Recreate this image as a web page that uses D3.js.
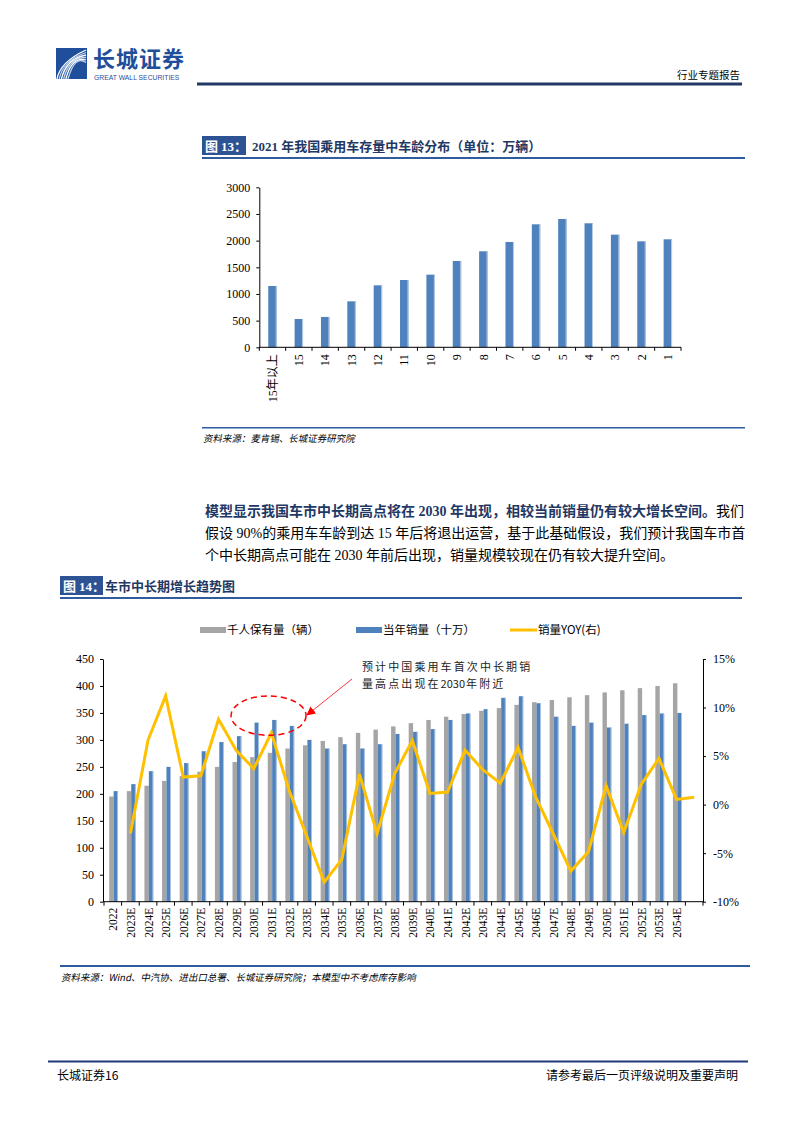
<!DOCTYPE html>
<html><head><meta charset="utf-8">
<script src="https://cdn.jsdelivr.net/npm/d3@7"></script>
<style>body{margin:0;background:#fff} svg{display:block}</style>
</head><body><svg id="page" width="794" height="1123"></svg>
<script>
// ---------- Chart 13 data ----------
const ageCategories = ["15年以上","15","14","13","12","11","10","9","8","7","6","5","4","3","2","1"];
const ageValues = [1150,531,569,862,1162,1262,1362,1619,1800,1975,2306,2406,2325,2112,1987,2025];
const ageTicks = [0,500,1000,1500,2000,2500,3000];

// ---------- Chart 14 data ----------
const years = ["2022","2023E","2024E","2025E","2026E","2027E","2028E","2029E","2030E","2031E","2032E","2033E","2034E","2035E","2036E","2037E","2038E","2039E","2040E","2041E","2042E","2043E","2044E","2045E","2046E","2047E","2048E","2049E","2050E","2051E","2052E","2053E","2054E","2055E"];
const yearLabels = ["2022","2023E","2024E","2025E","2026E","2027E","2028E","2029E","2030E","2031E","2032E","2033E","2034E","2035E","2036E","2037E","2038E","2039E","2040E","2041E","2042E","2043E","2044E","2045E","2046E","2047E","2048E","2049E","2050E","2051E","2052E","2053E","2054E",""];
const ownershipPer1000 = [195,205,215,224,233,241,250,259,268,276,284,290,298,305,313,319,325,331,337,343,348,354,359,365,370,374,379,383,388,392,396,400,405];
const annualSales = [205,218,242,250,257,279,296,307,332,337,326,300,284,292,284,292,311,315,320,337,349,357,378,381,368,343,326,332,323,330,346,349,350];
const salesYoY = [null,-2.97,6.65,11.2,2.84,2.97,8.8,5.6,3.7,7.4,1.5,-3.2,-8.0,-5.65,3.14,-3.0,3.2,6.6,1.15,1.3,5.6,3.6,2.2,5.9,0.8,-3.0,-6.85,-4.85,1.95,-2.87,2.1,4.76,0.54,0.75];
const leftTicks = [0,50,100,150,200,250,300,350,400,450];
const rightTicks = [-10,-5,0,5,10,15];
const seriesNames = ["千人保有量（辆）","当年销量（十万）","销量YOY(右)"];

const SERIF = "'Liberation Serif','Times New Roman','Noto Sans CJK SC',serif";
const CJK = "'Noto Sans CJK SC','Liberation Serif',sans-serif";
const BLUE = "#4F81BD", GRAY = "#A5A5A5", YELLOW = "#FFC000";
const NAVY = "#1F3864", BOXBLUE = "#2E5395", RULE = "#2F5B9F";

const svg = d3.select("#page");
svg.append("rect").attr("width",794).attr("height",1123).attr("fill","#fff");

// ---------- Header ----------
const hdr = svg.append("g");
hdr.append("rect").attr("x",56).attr("y",48).attr("width",31).attr("height",31).attr("fill","#1F4E9A");
[0,1,2,3,4,5].forEach(i=>{
  hdr.append("path")
    .attr("d",`M${57+i*2.2},${79} Q${60+i*3},${62-i*1.5} ${86},${50+i*2.5}`)
    .attr("fill","none").attr("stroke", i%2? "#BFD3EE":"#ffffff").attr("stroke-width",1.3);
});
hdr.append("text").attr("x",93).attr("y",67).attr("font-family",CJK).attr("font-weight","bold")
  .attr("font-size",22).attr("fill","#1F4E9A").attr("letter-spacing",1).text("长城证券");
hdr.append("text").attr("x",94).attr("y",79.5).attr("font-family","'Liberation Sans',Arial,sans-serif")
  .attr("font-size",6.8).attr("fill","#1F4E9A").text("GREAT WALL SECURITIES");
hdr.append("rect").attr("x",197).attr("y",82.5).attr("width",545).attr("height",3).attr("fill",NAVY);
hdr.append("text").attr("x",740).attr("y",79).attr("text-anchor","end").attr("font-family",CJK)
  .attr("font-size",10.5).attr("fill","#000").text("行业专题报告");

// ---------- Figure title helper ----------
function figTitle(x, y, num, title, ruleEnd){
  const g = svg.append("g");
  g.append("rect").attr("x",x).attr("y",y).attr("width",num==="13"?44:43).attr("height",19).attr("fill",BOXBLUE);
  const t = g.append("text").attr("x",x+3).attr("y",y+14.5).attr("fill","#fff").attr("font-weight","bold").attr("font-size",13);
  t.append("tspan").attr("font-family",CJK).text("图 ");
  t.append("tspan").attr("font-family",SERIF).text(num+"：");
  g.append("text").attr("x",x+(num==="13"?50:45)).attr("y",y+14.5).attr("fill",NAVY).attr("font-weight","bold")
    .attr("font-size",13).attr("font-family",SERIF).text(title);
  g.append("rect").attr("x",x).attr("y",y+21).attr("width",ruleEnd-x).attr("height",2).attr("fill",RULE);
}
figTitle(202,136,"13","2021 年我国乘用车存量中车龄分布（单位：万辆）",745);

// ---------- Chart 13 ----------
const c1 = {x0:259.3, x1:681, yTop:187.3, yBot:347.3};
const x1s = d3.scaleBand().domain(ageCategories).range([c1.x0,c1.x1]).paddingInner(0.68).paddingOuter(0.34);
const y1s = d3.scaleLinear().domain([0,3000]).range([c1.yBot,c1.yTop]);
const g1 = svg.append("g");
g1.selectAll("rect.bar").data(ageValues).join("rect").attr("class","bar")
  .attr("x",(d,i)=>x1s(ageCategories[i])).attr("width",x1s.bandwidth())
  .attr("y",d=>y1s(d)).attr("height",d=>c1.yBot-y1s(d)).attr("fill",BLUE);
g1.selectAll("rect.edge").data(ageValues).join("rect").attr("class","edge")
  .attr("x",(d,i)=>x1s(ageCategories[i])+x1s.bandwidth()-1).attr("width",1)
  .attr("y",d=>y1s(d)).attr("height",d=>c1.yBot-y1s(d)).attr("fill","#B9CDE5");
const ax1 = g1.append("g").attr("transform",`translate(${c1.x0},0)`)
  .call(d3.axisLeft(y1s).tickValues(ageTicks).tickFormat(d3.format("d")).tickSize(3).tickPadding(6).tickSizeOuter(0));
ax1.selectAll("text").attr("font-family",SERIF).attr("font-size",12).attr("fill","#000");
ax1.selectAll("line,path").attr("stroke","#000");
// x axis
const step1 = x1s.step();
g1.append("line").attr("x1",c1.x0).attr("x2",c1.x1).attr("y1",c1.yBot).attr("y2",c1.yBot).attr("stroke","#000");
const bounds1 = ageCategories.map(c=>x1s(c) - (step1-x1s.bandwidth())/2).concat([c1.x1]);
g1.selectAll("line.xt").data(bounds1).join("line").attr("class","xt")
  .attr("x1",d=>d).attr("x2",d=>d).attr("y1",c1.yBot).attr("y2",c1.yBot+3.5).attr("stroke","#000");
g1.selectAll("text.xl").data(ageCategories).join("text").attr("class","xl")
  .attr("transform",d=>`translate(${x1s(d)+x1s.bandwidth()/2},${c1.yBot+7}) rotate(-90)`)
  .attr("text-anchor","end").attr("dy","0.35em").attr("font-family",SERIF).attr("font-size",12).text(d=>d);

// source 1
svg.append("rect").attr("x",202).attr("y",427).attr("width",543).attr("height",1.5).attr("fill",RULE);
svg.append("text").attr("x",203).attr("y",442).attr("font-family",CJK).attr("font-size",9.5)
  .attr("fill","#000").text("资料来源：麦肯锡、长城证券研究院")
  .attr("transform","translate(203,442) skewX(-12) translate(-203,-442)");

// ---------- Paragraph ----------
const para = svg.append("g").attr("font-family",SERIF).attr("font-size",14);
const l1 = para.append("text").attr("x",205).attr("y",516);
l1.append("tspan").attr("font-weight","bold").attr("fill",NAVY).text("模型显示我国车市中长期高点将在 2030 年出现，相较当前销量仍有较大增长空间。");
l1.append("tspan").attr("fill","#000").text("我们");
para.append("text").attr("x",205).attr("y",538).attr("fill","#000").text("假设 90%的乘用车车龄到达 15 年后将退出运营，基于此基础假设，我们预计我国车市首");
para.append("text").attr("x",205).attr("y",560).attr("fill","#000").text("个中长期高点可能在 2030 年前后出现，销量规模较现在仍有较大提升空间。");

// ---------- Figure 14 ----------
figTitle(60,576,"14","车市中长期增长趋势图",742);

const c2 = {x0:104, x1:703, yTop:659, yBot:901.7};
const x2s = d3.scaleBand().domain(years).range([c2.x0,c2.x1]).padding(0);
const sub = d3.scaleBand().domain(["own","sales"]).range([0,x2s.bandwidth()]).paddingInner(0).paddingOuter(1);
const yL = d3.scaleLinear().domain([0,450]).range([c2.yBot,c2.yTop]);
const yR = d3.scaleLinear().domain([-10,15]).range([c2.yBot,c2.yTop]);
const g2 = svg.append("g");
const shift = 0.8;
g2.selectAll("rect.own").data(ownershipPer1000).join("rect").attr("class","own")
  .attr("x",(d,i)=>x2s(years[i])+sub("own")+shift).attr("width",sub.bandwidth())
  .attr("y",d=>yL(d)).attr("height",d=>c2.yBot-yL(d)).attr("fill",GRAY);
g2.selectAll("rect.sales").data(annualSales).join("rect").attr("class","sales")
  .attr("x",(d,i)=>x2s(years[i])+sub("sales")+shift).attr("width",sub.bandwidth())
  .attr("y",d=>yL(d)).attr("height",d=>c2.yBot-yL(d)).attr("fill",BLUE);
g2.selectAll("rect.sedge").data(annualSales).join("rect").attr("class","sedge")
  .attr("x",(d,i)=>x2s(years[i])+sub("sales")+shift+sub.bandwidth()-0.8).attr("width",0.8)
  .attr("y",d=>yL(d)).attr("height",d=>c2.yBot-yL(d)).attr("fill","#B9CDE5");

// axes
const axL = g2.append("g").attr("transform",`translate(${c2.x0-1},0)`)
  .call(d3.axisLeft(yL).tickValues(leftTicks).tickSize(3).tickPadding(6).tickSizeOuter(0));
axL.selectAll("text").attr("font-family",SERIF).attr("font-size",12).attr("fill","#000");
axL.selectAll("line,path").attr("stroke","#000");
const axR = g2.append("g").attr("transform",`translate(${c2.x1},0)`)
  .call(d3.axisRight(yR).tickValues(rightTicks).tickSize(3).tickPadding(7).tickSizeOuter(0).tickFormat(d=>d+"%"));
axR.selectAll("text").attr("font-family",SERIF).attr("font-size",12).attr("fill","#000");
axR.selectAll("line,path").attr("stroke","#000");
g2.append("line").attr("x1",c2.x0-1).attr("x2",c2.x1).attr("y1",c2.yBot).attr("y2",c2.yBot).attr("stroke","#000");
const bounds2 = years.map(y=>x2s(y)).concat([c2.x1]);
g2.selectAll("line.xt").data(bounds2).join("line").attr("class","xt")
  .attr("x1",d=>d).attr("x2",d=>d).attr("y1",c2.yBot).attr("y2",c2.yBot+4).attr("stroke","#000");
g2.selectAll("text.xl").data(yearLabels).join("text").attr("class","xl")
  .attr("transform",(d,i)=>`translate(${x2s(years[i])+x2s.bandwidth()/2+0.5},${c2.yBot+6}) rotate(-90)`)
  .attr("text-anchor","end").attr("dy","0.35em").attr("font-family",SERIF).attr("font-size",11.5).text(d=>d);

// YoY line
const lineGen = d3.line().defined(d=>d!=null)
  .x((d,i)=>x2s(years[i])+x2s.bandwidth()/2).y(d=>yR(d));
g2.append("path").datum(salesYoY).attr("d",lineGen).attr("fill","none")
  .attr("stroke",YELLOW).attr("stroke-width",3).attr("stroke-linejoin","miter");

// legend
const lg = svg.append("g").attr("font-family",CJK).attr("font-size",11.5).attr("fill","#000");
lg.append("rect").attr("x",200).attr("y",627).attr("width",26).attr("height",6).attr("fill",GRAY);
lg.append("text").attr("x",227).attr("y",634).text(seriesNames[0]);
lg.append("rect").attr("x",356).attr("y",627).attr("width",26).attr("height",6).attr("fill",BLUE);
lg.append("text").attr("x",383).attr("y",634).text(seriesNames[1]);
lg.append("line").attr("x1",510).attr("x2",537).attr("y1",630).attr("y2",630).attr("stroke",YELLOW).attr("stroke-width",3);
lg.append("text").attr("x",538).attr("y",634).text(seriesNames[2]);

// annotation
const ann = svg.append("g");
const ecx = x2s("2031E") + 6, ecy = yL(345);
ann.append("ellipse").attr("cx",ecx).attr("cy",ecy).attr("rx",37.5).attr("ry",19.7)
  .attr("fill","none").attr("stroke","#FF0000").attr("stroke-width",1.5).attr("stroke-dasharray","6,4");
svg.append("defs").append("marker").attr("id","arr").attr("viewBox","0 0 10 10").attr("refX",9).attr("refY",5)
  .attr("markerWidth",9).attr("markerHeight",9).attr("orient","auto-start-reverse").attr("markerUnits","userSpaceOnUse")
  .append("path").attr("d","M0,0 L10,5 L0,10 z").attr("fill","#FF0000");
ann.append("line").attr("x1",352).attr("y1",679).attr("x2",307).attr("y2",715)
  .attr("stroke","#FF0000").attr("stroke-width",0.8).attr("marker-end","url(#arr)");
const at1 = ann.append("text").attr("x",362).attr("y",671).attr("font-family",CJK).attr("font-size",11)
  .attr("letter-spacing",2.1).attr("fill","#222").text("预计中国乘用车首次中长期销");
const at2 = ann.append("text").attr("x",362).attr("y",688).attr("font-family",CJK).attr("font-size",11).attr("fill","#222");
at2.append("tspan").attr("letter-spacing",2.1).text("量高点出现在");
at2.append("tspan").attr("letter-spacing",0).text("2030");
at2.append("tspan").attr("letter-spacing",2.1).attr("dx",1).text("年附近");

// source 2
svg.append("rect").attr("x",60).attr("y",965).attr("width",690).attr("height",2).attr("fill",RULE);
svg.append("text").attr("x",61).attr("y",981).attr("font-family",CJK).attr("font-size",9.5)
  .attr("fill","#000").attr("transform","translate(61,981) skewX(-12) translate(-61,-981)")
  .text("资料来源：Wind、中汽协、进出口总署、长城证券研究院；本模型中不考虑库存影响");

// ---------- Footer ----------
svg.append("rect").attr("x",48).attr("y",1060.5).attr("width",700).attr("height",2).attr("fill","#1F3A7A");
svg.append("text").attr("x",57).attr("y",1080).attr("font-family",CJK).attr("font-size",12).attr("fill","#000").text("长城证券16");
svg.append("text").attr("x",738).attr("y",1080).attr("text-anchor","end").attr("font-family",CJK).attr("font-size",12).attr("fill","#000").text("请参考最后一页评级说明及重要声明");
</script></body></html>
